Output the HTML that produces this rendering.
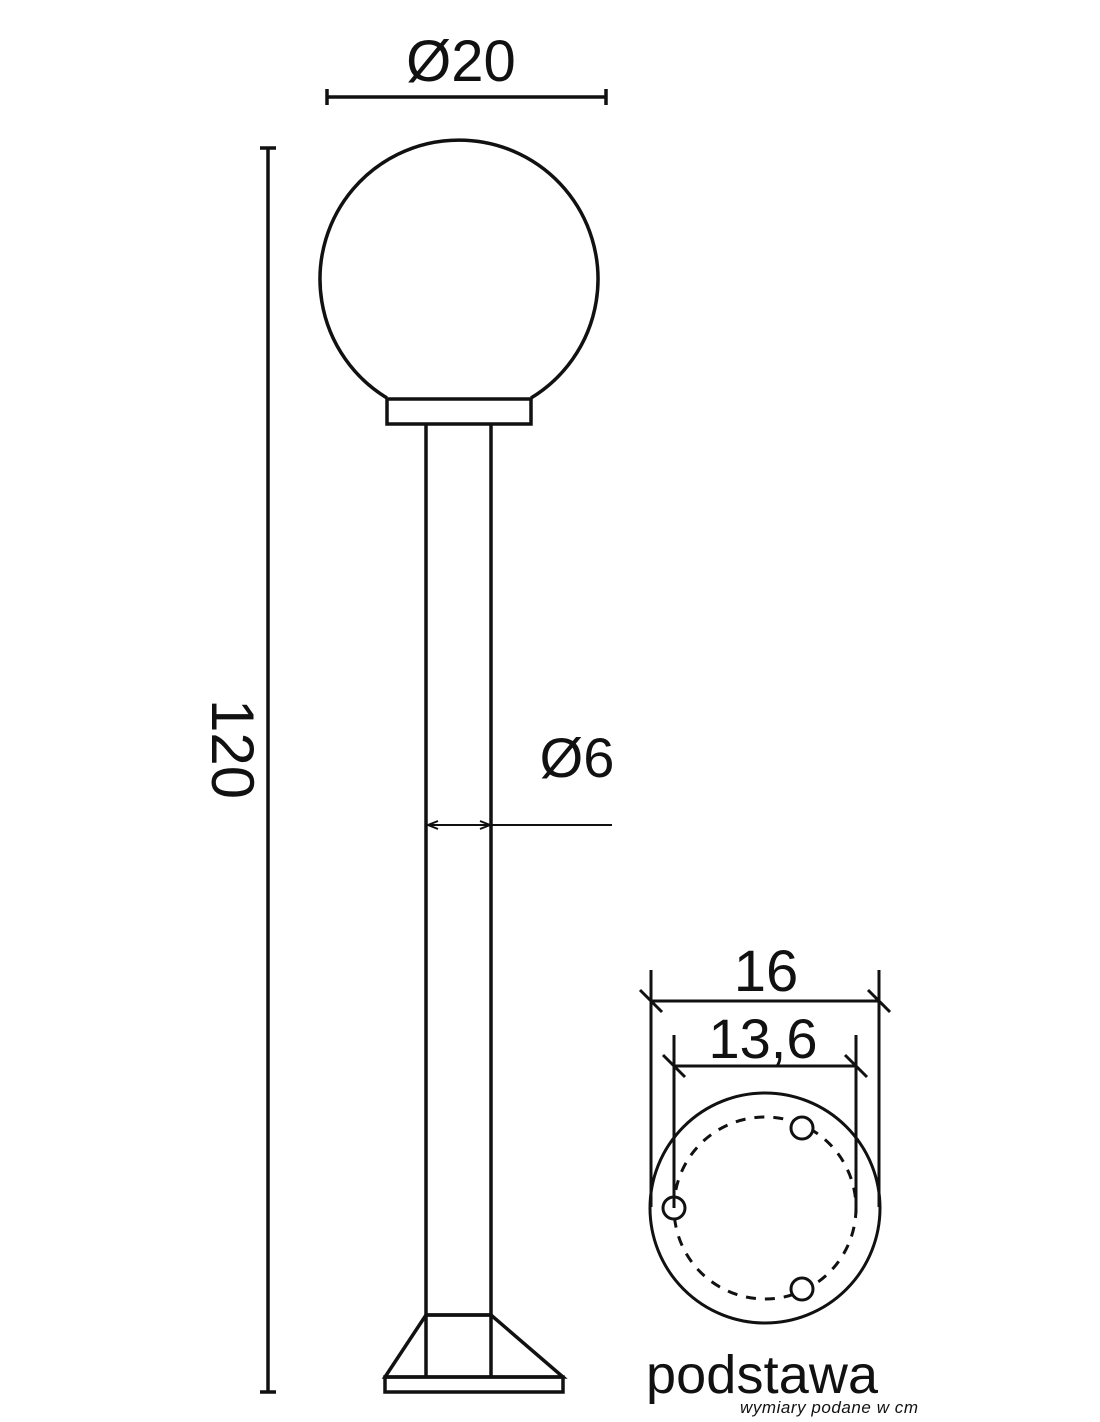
<!DOCTYPE html>
<html><head><style>
html,body{margin:0;padding:0;background:#fff;}
svg{display:block;}
text{font-family:"Liberation Sans","DejaVu Sans",sans-serif;fill:#111;}
</style></head><body>
<svg width="1100" height="1422" viewBox="0 0 1100 1422" xmlns="http://www.w3.org/2000/svg">
<g stroke="#111" stroke-width="3.5" fill="none">
<line x1="327" y1="97" x2="606" y2="97"/>
<line x1="327" y1="89" x2="327" y2="105"/>
<line x1="606" y1="89" x2="606" y2="105"/>
<line x1="268" y1="148" x2="268" y2="1392"/>
<line x1="260" y1="148" x2="276" y2="148"/>
<line x1="260" y1="1392" x2="276" y2="1392"/>
<path d="M387,398 A139,139 0 1 1 531,398"/>
<rect x="387" y="399" width="144" height="25"/>
<line x1="426" y1="424" x2="426" y2="1377"/>
<line x1="491" y1="424" x2="491" y2="1377"/>
<line x1="426" y1="1315" x2="491" y2="1315"/>
<polygon points="426,1315 491,1315 563,1377 385,1377"/>
<rect x="385" y="1377" width="178" height="15"/>
</g>
<g stroke="#111" stroke-width="2">
<line x1="428" y1="825" x2="612" y2="825"/>
<polyline points="438,821 428,825 438,829" fill="none"/>
<polyline points="480,821 490,825 480,829" fill="none"/>
</g>
<text x="461" y="81" font-size="58" text-anchor="middle">Ø20</text>
<text x="577" y="777" font-size="56" text-anchor="middle">Ø6</text>
<text transform="translate(212,749) rotate(90)" font-size="60" text-anchor="middle">120</text>
<g stroke="#111" stroke-width="3" fill="none">
<circle cx="765" cy="1208" r="115"/>
<circle cx="765" cy="1208" r="91" stroke-dasharray="10,9"/>
<circle cx="674" cy="1208" r="11" fill="#fff"/>
<circle cx="802" cy="1128" r="11" fill="#fff"/>
<circle cx="802" cy="1289" r="11" fill="#fff"/>
<line x1="651" y1="970" x2="651" y2="1207"/>
<line x1="879" y1="970" x2="879" y2="1207"/>
<line x1="651" y1="1001" x2="879" y2="1001"/>
<line x1="640" y1="990" x2="662" y2="1012"/>
<line x1="868" y1="990" x2="890" y2="1012"/>
<line x1="674" y1="1035" x2="674" y2="1208"/>
<line x1="856" y1="1035" x2="856" y2="1213"/>
<line x1="674" y1="1066" x2="856" y2="1066"/>
<line x1="663" y1="1055" x2="685" y2="1077"/>
<line x1="845" y1="1055" x2="867" y2="1077"/>
</g>
<text x="766" y="991" font-size="58" text-anchor="middle">16</text>
<text x="763" y="1058" font-size="56" text-anchor="middle">13,6</text>
<text x="646" y="1393" font-size="54" textLength="232">podstawa</text>
<text x="740" y="1413" font-size="17" font-style="italic" textLength="178">wymiary podane w cm</text>
</svg>
</body></html>
